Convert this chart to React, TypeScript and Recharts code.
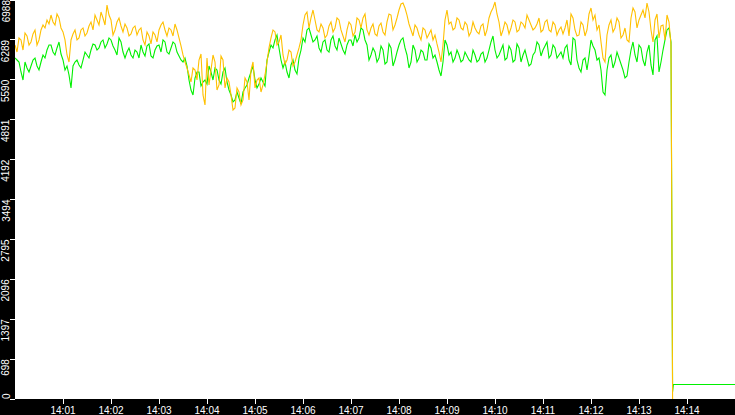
import React from "react";
import { LineChart, Line, XAxis, YAxis, CartesianGrid } from "recharts";

// seconds after 14:00:00: samples every 5 s (main) plus the readings half-way between them
const SAMPLE_STEP = 5;
const tailSeconds = [821, 822, 823, 900];

const orangeMain = [
  6200, 6323, 6112, 6358, 6253, 6463, 6288, 6550, 6638, 6725,
  6550, 6673, 6428, 6025, 6288, 6463, 6323, 6498, 6410, 6603,
  6725, 6550, 6673, 6900, 6638, 6463, 6673, 6428, 6498, 6393,
  6533, 6463, 6288, 6428, 6218, 6375, 6463, 6603, 6358, 6463,
  6568, 6323, 6025, 5797, 5552, 5762, 5937, 5325, 5972, 5762,
  5902, 5500, 5937, 5622, 5325, 5097, 5377, 5237, 5552, 5762,
  5447, 5622, 5500, 5902, 6323, 6428, 6253, 6025, 5937, 6077,
  5902, 6148, 6550, 6778, 6673, 6638, 6428, 6498, 6375, 6603,
  6498, 6638, 6358, 6463, 6550, 6428, 6638, 6673, 6463, 6498,
  6393, 6533, 6428, 6603, 6725, 6550, 6813, 6935, 6725, 6463,
  6550, 6375, 6498, 6323, 6463, 6375, 6077, 6200, 6813, 6603,
  6498, 6638, 6463, 6550, 6428, 6498, 6393, 6568, 6463, 6778,
  6953, 6603, 6463, 6550, 6498, 6603, 6463, 6568, 6725, 6550,
  6498, 6673, 6463, 6638, 6428, 6550, 6463, 6393, 6638, 6743,
  6463, 6375, 6550, 6463, 6848, 6725, 6550, 5972, 6375, 6638,
  6498, 6603, 6375, 6288, 6673, 6778, 6638, 6813, 6935, 6463,
  6638, 6323, 6550, 6725, 6200,
];
const orangeHalf = [
  6077, 6288, 6410, 6200, 6393, 6200, 6463, 6498, 6568, 6603,
  6743, 6498, 6288, 5902, 6393, 6288, 6463, 6358, 6533, 6463,
  6638, 6778, 6550, 6725, 6375, 6603, 6533, 6568, 6358, 6498,
  6375, 6498, 6200, 6358, 6428, 6253, 6550, 6463, 6498, 6358,
  6463, 6183, 5902, 5675, 5797, 5587, 6042, 5149, 5500, 6025,
  5412, 6007, 5447, 5552, 5062, 5447, 5149, 5622, 5237, 5902,
  5587, 5377, 5675, 6148, 6463, 6200, 6375, 5867, 6112, 5832,
  6025, 6288, 6725, 6498, 6813, 6463, 6568, 6323, 6533, 6428,
  6673, 6463, 6253, 6603, 6358, 6673, 6498, 6743, 6375, 6568,
  6358, 6585, 6375, 6743, 6463, 6673, 6918, 6848, 6568, 6358,
  6498, 6288, 6463, 6393, 6288, 6218, 5902, 6638, 6568, 6463,
  6673, 6498, 6603, 6358, 6603, 6428, 6533, 6358, 6673, 6848,
  6743, 6358, 6603, 6393, 6638, 6428, 6603, 6498, 6638, 6463,
  6568, 6428, 6603, 6463, 6603, 6375, 6515, 6498, 6358, 6673,
  6358, 6603, 6358, 6743, 6638, 6463, 6253, 5902, 6550, 6428,
  6673, 6323, 6498, 6253, 6848, 6498, 6725, 6673, 6778, 6253,
  6743, 6533, 6288, 6603,
];
const orangeTail = [3222, 0, null, null];

const greenMain = [
  5972, 5902, 5587, 5797, 5832, 5972, 5762, 6025, 6112, 6200,
  6025, 6253, 5937, 5832, 5447, 5902, 5850, 5937, 6025, 6112,
  6200, 6148, 6288, 6218, 6288, 6112, 6323, 6077, 6077, 6025,
  6112, 5972, 6077, 6183, 6007, 6112, 6200, 6288, 6077, 6148,
  6218, 6007, 5902, 5832, 5412, 5622, 5727, 5552, 5517, 5727,
  5797, 5587, 5727, 5552, 5325, 5237, 5272, 5377, 5500, 5727,
  5587, 5517, 5552, 5937, 6200, 6288, 6148, 5797, 5727, 5850,
  5762, 5972, 6323, 6463, 6375, 6288, 6148, 6253, 6112, 6288,
  6183, 6323, 6112, 6200, 6288, 6375, 6323, 6463, 6200, 6025,
  6077, 5972, 6112, 5902, 6148, 5937, 6200, 6323, 6025, 5902,
  6112, 5972, 6077, 5937, 6148, 6025, 5762, 5902, 6200, 6077,
  5972, 6025, 5937, 6007, 5902, 6025, 5937, 6077, 5972, 6253,
  6112, 6025, 6200, 5972, 6112, 5937, 6148, 6025, 5972, 5867,
  6077, 6200, 6112, 6253, 6025, 6148, 6025, 5972, 6200, 5850,
  6288, 5797, 5937, 5762, 6288, 6112, 5972, 5377, 5762, 6025,
  5902, 5972, 5762, 5657, 6112, 6025, 6200, 5937, 6077, 5850,
  6288, 5727, 6112, 6463, 6253,
];
const greenHalf = [
  5937, 5727, 5902, 5727, 5937, 5832, 5902, 5972, 6200, 6077,
  6148, 6042, 5762, 5675, 5832, 5937, 5797, 6077, 5972, 6218,
  6112, 6253, 6148, 6323, 6183, 6025, 6253, 5972, 6148, 5972,
  6077, 6200, 6007, 6218, 5972, 6183, 6077, 6253, 6042, 6253,
  6077, 5937, 5972, 5587, 5325, 5727, 5482, 5587, 5832, 5587,
  5762, 5517, 5797, 5412, 5202, 5377, 5167, 5447, 5622, 5832,
  5447, 5622, 5482, 6077, 6148, 6375, 5937, 5902, 5622, 5937,
  5692, 6112, 6253, 6498, 6253, 6358, 6077, 6288, 6077, 6358,
  6112, 6218, 6042, 6288, 6183, 6253, 6498, 6288, 5937, 6148,
  5902, 6183, 5867, 6218, 5832, 6077, 6288, 6148, 5797, 6200,
  5902, 6112, 5937, 6218, 5972, 5902, 5657, 6288, 6025, 5902,
  6112, 5902, 6077, 5937, 6112, 5902, 6042, 5902, 6112, 6358,
  5972, 6112, 5937, 6183, 5902, 6218, 5902, 6112, 5832, 6025,
  6253, 6007, 6183, 5972, 6200, 5972, 6077, 6148, 5937, 6323,
  5937, 5727, 5972, 6007, 6183, 5937, 5762, 5325, 5972, 5797,
  6077, 5867, 5622, 5902, 6253, 5902, 6148, 5832, 6200, 5675,
  6358, 5902, 6288, 6498,
];
const greenTail = [3150, 130, 254, 254];

const xTickSeconds = [60, 120, 180, 240, 300, 360, 420, 480, 540, 600, 660, 720, 780, 840];
const xTickLabels = ["14:01", "14:02", "14:03", "14:04", "14:05", "14:06", "14:07", "14:08", "14:09", "14:10", "14:11", "14:12", "14:13", "14:14"];

const yTickValues = [0, 698.8, 1397.6, 2096.4, 2795.2, 3494, 4192.8, 4891.6, 5590.4, 6289.2, 6988];
const yTickLabels = ["0", "698", "1397", "2096", "2795", "3494", "4192", "4891", "5590", "6289", "6988"];

const data: { t: number; orange: number | null; green: number | null }[] = [];
orangeMain.forEach((v, i) => {
  data.push({ t: i * SAMPLE_STEP, orange: v, green: greenMain[i] });
  if (i < orangeHalf.length) {
    data.push({ t: i * SAMPLE_STEP + SAMPLE_STEP / 2, orange: orangeHalf[i], green: greenHalf[i] });
  }
});
tailSeconds.forEach((t, i) => {
  data.push({ t, orange: orangeTail[i], green: greenTail[i] });
});

const W = 735;
const H = 415;
const Y_AXIS_W = 15;
const X_AXIS_H = 16;
const FONT = "'Liberation Sans', Arial, sans-serif";

const YTick = (props: any) => {
  const { y, index } = props;
  const label = yTickLabels[index];
  const tx = 9.5;
  return (
    <g>
      <line x1={10} x2={15} y1={y} y2={y} stroke="#fff" strokeWidth={1} shapeRendering="crispEdges" />
      <text
        x={tx}
        y={y}
        transform={`rotate(-90, ${tx}, ${y})`}
        textAnchor={index === 0 ? "start" : "end"}
        fill="#fff"
        fontSize={10}
        fontFamily={FONT}
      >
        {label}
      </text>
    </g>
  );
};

const XTick = (props: any) => {
  const { x, index } = props;
  const top = H - X_AXIS_H;
  return (
    <g>
      <line x1={x} x2={x} y1={top} y2={top + 5} stroke="#fff" strokeWidth={1} shapeRendering="crispEdges" />
      <text x={x} y={414} textAnchor="middle" fill="#fff" fontSize={10} fontFamily={FONT}>
        {xTickLabels[index]}
      </text>
    </g>
  );
};

export default function App() {
  return (
    <div style={{ position: "absolute", left: 0, top: 0, width: W, height: H, background: "#000" }}>
      <LineChart width={W} height={H} data={data} margin={{ top: 0, right: 0, bottom: 0, left: 0 }}>
        <CartesianGrid horizontal={false} vertical={false} fill="#ffffff" fillOpacity={1} stroke="none" />
        <XAxis
          dataKey="t"
          type="number"
          domain={[0, 900]}
          ticks={xTickSeconds}
          height={X_AXIS_H}
          axisLine={false}
          tickLine={false}
          tick={<XTick />}
          interval={0}
          allowDataOverflow
        />
        <YAxis
          type="number"
          domain={[0, 6988]}
          ticks={yTickValues}
          width={Y_AXIS_W}
          axisLine={false}
          tickLine={false}
          tick={<YTick />}
          interval={0}
          allowDataOverflow
        />
        <Line
          dataKey="green"
          type="linear"
          stroke="#00F000"
          strokeWidth={1.1}
          dot={false}
          activeDot={false}
          isAnimationActive={false}
        />
        <Line
          dataKey="orange"
          type="linear"
          stroke="#FFC000"
          strokeWidth={1.1}
          dot={false}
          activeDot={false}
          isAnimationActive={false}
        />
      </LineChart>
    </div>
  );
}
